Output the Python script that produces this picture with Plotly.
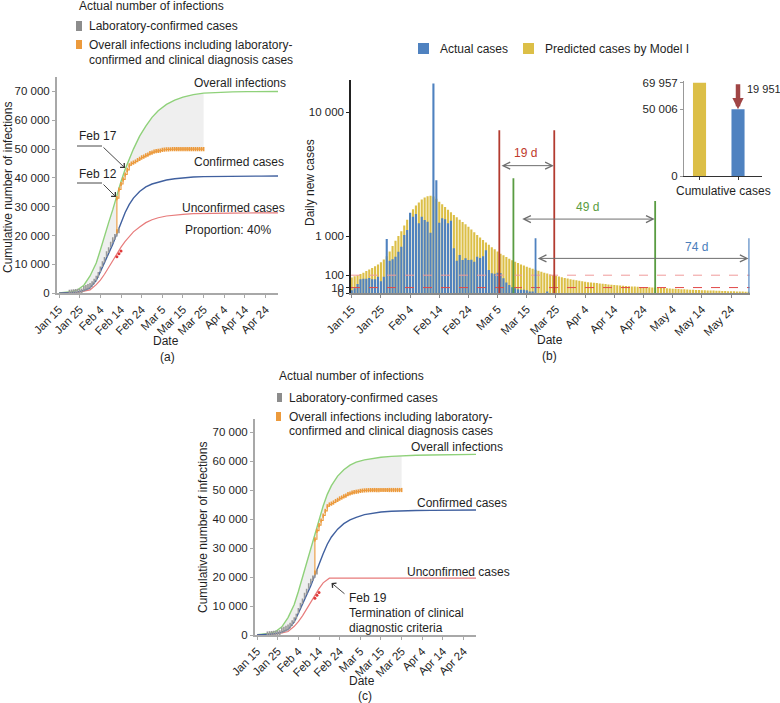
import numpy as np
import pandas as pd
import plotly.graph_objects as go

# ------------------------------------------------------------------ data
# fitted curves for the cumulative panels (a) and (c)
fit_dates = ["2020-01-15", "2020-01-18", "2020-01-21", "2020-01-24", "2020-01-27", "2020-01-30",
             "2020-02-02", "2020-02-04", "2020-02-06", "2020-02-08", "2020-02-10", "2020-02-12",
             "2020-02-14", "2020-02-16", "2020-02-18", "2020-02-20", "2020-02-23", "2020-02-26",
             "2020-02-29", "2020-03-03", "2020-03-07", "2020-03-11", "2020-03-15", "2020-03-20",
             "2020-03-25", "2020-04-01", "2020-04-08", "2020-04-15", "2020-04-22", "2020-04-30"]
overall_a = [100, 250, 550, 1200, 2800, 6000, 10500, 15000, 20000, 24500, 29000, 34000, 38800, 43000,
             46800, 50000, 54500, 58000, 61000, 63300, 65500, 67000, 68000, 68900, 69400, 69700,
             69850, 69920, 69950, 69957]
confirmed_a = [50, 100, 250, 500, 1000, 1900, 4500, 7500, 10500, 13500, 17000, 20700, 24500, 28000,
               30800, 33000, 35300, 36900, 37900, 38600, 39300, 39700, 40000, 40300, 40450, 40550,
               40600, 40620, 40640, 40650]
unconfirmed_a = [20, 60, 150, 350, 750, 1200, 3000, 4600, 6600, 9000, 11500, 13800, 16000, 18000,
                 19800, 21300, 23000, 24500, 25500, 26200, 26800, 27200, 27400, 27600, 27700, 27780,
                 27820, 27850, 27870, 27880]

overall_c = [100, 250, 550, 1200, 2800, 6000, 10500, 15000, 20000, 24500, 29500, 35000, 40000, 44500,
             48500, 51500, 54800, 57000, 58600, 59600, 60400, 60900, 61300, 61600, 61800, 62000,
             62100, 62200, 62250, 62300]
confirmed_c = [50, 100, 250, 500, 1000, 1900, 4500, 7500, 10500, 13500, 17000, 20700, 24500, 28000,
               31300, 33800, 36500, 38400, 39700, 40600, 41500, 42000, 42400, 42700, 42850, 42950,
               43000, 43050, 43080, 43100]
unconfirmed_c_dates = ["2020-01-15", "2020-01-18", "2020-01-21", "2020-01-24", "2020-01-27", "2020-01-30",
                       "2020-02-02", "2020-02-04", "2020-02-06", "2020-02-08", "2020-02-10", "2020-02-12",
                       "2020-02-14", "2020-02-16", "2020-02-19", "2020-04-30"]
unconfirmed_c = [20, 60, 150, 350, 750, 1200, 3000, 4600, 6600, 9000, 11500, 13800, 16000, 18000,
                 19600, 19600]

# actual data points
lab_start = "2020-01-20"
lab_confirmed = [260, 360, 430, 500, 570, 620, 700, 1590, 1900, 2260, 2640, 3220, 4110, 5140, 6380,
                 8350, 10120, 11620, 13600, 14980, 16900, 18450, 19560, 20700, 21800]
overall_obs_start = "2020-02-12"
overall_obs_base = 21500
overall_obs = [33000, 36000, 37900, 39500, 41200, 42800, 44400, 45000, 45300, 45700, 46200, 46600,
               47100, 47400, 47800, 48100, 48600, 48800, 49100, 49300, 49400, 49500, 49700, 49800,
               49870, 49910, 49950, 49970, 49980, 49990, 49995, 50000, 50003, 50004, 50005, 50005,
               50005, 50005, 50006, 50006, 50006, 50006, 50006]
clinical_dates = ["2020-02-12", "2020-02-13", "2020-02-14"]
clinical_vals = [12700, 13700, 14700]

# daily panel (b)
daily_start = "2020-01-15"
predicted = [75, 88, 100, 115, 130, 150, 172, 195, 222, 255,
             295, 350, 420, 530, 680, 840, 1000, 1170, 1400, 1650,
             1950, 2150, 2350, 2520, 2680, 2800, 2880, 2900, 2860, 2730,
             2560, 2420, 2270, 2130, 2000, 1870, 1760, 1650, 1550, 1450,
             1350, 1240, 1140, 1040, 950, 866, 790, 720, 650, 590,
             530, 480, 440, 400, 365, 335, 305, 280, 255, 235,
             216, 198, 182, 168, 154, 142, 130, 119, 109, 100,
             92, 85, 78, 72, 66, 60, 56, 52, 48, 44,
             41, 38, 36, 34, 32, 30, 28, 26, 24, 22.5,
             21, 19.5, 18, 17, 16, 15.2, 14.4, 13.7, 13.1, 12.5,
             12.0, 11.5, 11.0, 10.5, 10.0, 9.4, 8.8, 8.2, 7.6, 7.0,
             6.5, 6.0, 5.6, 5.2, 4.8, 4.4, 4.1, 3.8, 3.5, 3.2,
             3.0, 2.8, 2.6, 2.4, 2.2, 2.0, 1.8, 1.7, 1.6, 1.4,
             1.3, 1.2, 1.1, 1.0, 0.9, 0.8, 0.7]
actual = [3, 8, 26, 60, 65, 65, 72, 60, 60, 84, 45, 84,
          900,
          324, 353, 409, 528, 663, 1037, 1223,
          1983, 1790, 1919, 1495, 1790, 1640, 1565, 1121,
          13436, 3900,
          1520, 1720, 1670, 1500, 1600,
          618, 324, 448, 338, 373, 338, 345, 305, 409, 380, 420, 565,
          166, 122, 118, 130, 126, 69,
          36, 21, 11, 8, 5, 4, 4, 3, 1, 1,
          0, 0, 0, 0, 1]
daily_ticks = [0, 10, 100, 1000, 10000]
daily_tick_text = ["0", "10", "100", "1 000", "10 000"]
threshold_100 = 100
threshold_10 = 10

# inset cumulative comparison
cum_labels = ["Predicted cases by Model I", "Actual cases"]
cum_values = [69957, 50006]

# tick labels
cum_tick_dates = ["2020-01-15", "2020-01-25", "2020-02-04", "2020-02-14", "2020-02-24", "2020-03-05",
                  "2020-03-15", "2020-03-25", "2020-04-04", "2020-04-14", "2020-04-24"]
cum_tick_text = ["Jan 15", "Jan 25", "Feb 4", "Feb 14", "Feb 24", "Mar 5", "Mar 15", "Mar 25",
                 "Apr 4", "Apr 14", "Apr 24"]
daily_tick_dates = cum_tick_dates + ["2020-05-04", "2020-05-14", "2020-05-24"]
daily_tick_labels = cum_tick_text + ["May 4", "May 14", "May 24"]
cum_yticks = [0, 10000, 20000, 30000, 40000, 50000, 60000, 70000]
cum_ytext = ["0", "10 000", "20 000", "30 000", "40 000", "50 000", "60 000", "70 000"]

# ------------------------------------------------------------------ style
W, H = 780, 703
FONT = "Liberation Sans, Arial, sans-serif"
TXT = "#1f1f1f"
GREEN = "#8fd17a"
BLUE_LINE = "#40609f"
RED_LINE = "#e77b7b"
ORANGE = "#ec9a3c"
GREY_MARK = "#9a9a9a"
SHADE = "#efefef"
BAR_BLUE = "#4f82c0"
BAR_YELLOW = "#dcbf47"
DARK_RED = "#b33b30"
MID_GREEN = "#5a9c42"
AXIS_GREY = "#a8a8a8"


def px(x):
    return x / W


def py(y):
    return 1 - y / H


fig = go.Figure()


def step_points(xs, ys):
    pts = [(xs[0], ys[0])]
    for i in range(1, len(xs)):
        pts.append((xs[i], ys[i - 1]))
        pts.append((xs[i], ys[i]))
    return pts


def cum_panel(xa, ya, overall, confirmed, unc_dates, unc):
    lab_x = pd.date_range(lab_start, periods=len(lab_confirmed)).strftime("%Y-%m-%d").tolist()
    obs_x = [overall_obs_start] + pd.date_range(overall_obs_start, periods=len(overall_obs)).strftime("%Y-%m-%d").tolist()
    obs_y = [overall_obs_base] + overall_obs

    # grey shaded gap between overall infections and observed cases
    upper = [(d, v) for d, v in zip(fit_dates, overall) if "2020-01-27" <= d <= "2020-03-25"]
    lower_obs = step_points(obs_x, obs_y)[::-1]
    lower_fit = [(d, v) for d, v in zip(fit_dates, confirmed) if "2020-01-27" <= d <= "2020-02-10"][::-1]
    poly = upper + lower_obs + lower_fit
    fig.add_trace(go.Scatter(x=[p[0] for p in poly], y=[p[1] for p in poly], fill="toself",
                             fillcolor=SHADE, line=dict(width=0), mode="lines", hoverinfo="skip",
                             xaxis=xa, yaxis=ya))
    fig.add_trace(go.Scatter(x=fit_dates, y=overall, mode="lines", line=dict(color=GREEN, width=1.4),
                             name="Overall infections", xaxis=xa, yaxis=ya))
    fig.add_trace(go.Scatter(x=unc_dates, y=unc, mode="lines", line=dict(color=RED_LINE, width=1.2),
                             name="Unconfirmed cases", xaxis=xa, yaxis=ya))
    fig.add_trace(go.Scatter(x=fit_dates, y=confirmed, mode="lines", line=dict(color=BLUE_LINE, width=1.4),
                             name="Confirmed cases", xaxis=xa, yaxis=ya))
    fig.add_trace(go.Scatter(x=lab_x, y=lab_confirmed, mode="markers",
                             marker=dict(symbol="line-ns-open", size=4, color=GREY_MARK,
                                         line=dict(width=1.6, color=GREY_MARK)),
                             name="Laboratory-confirmed cases", xaxis=xa, yaxis=ya))
    fig.add_trace(go.Scatter(x=obs_x, y=obs_y, mode="lines+markers", line=dict(color=ORANGE, width=1.1, shape="hv"),
                             marker=dict(symbol="line-ns-open", size=3, color=ORANGE,
                                         line=dict(width=1.6, color=ORANGE)),
                             name="Overall infections (observed)", xaxis=xa, yaxis=ya))
    fig.add_trace(go.Scatter(x=clinical_dates, y=clinical_vals, mode="markers",
                             marker=dict(symbol="circle", size=3, color="#e03a3a", line=dict(width=0)),
                             name="Clinical diagnosis", xaxis=xa, yaxis=ya))


cum_panel("x", "y", overall_a, confirmed_a, fit_dates, unconfirmed_a)
cum_panel("x3", "y3", overall_c, confirmed_c, unconfirmed_c_dates, unconfirmed_c)

# panel (b) bars (square-root scaled axis)
daily_x = pd.date_range(daily_start, periods=len(predicted))
bar_w = 0.72 * 86400000
fig.add_trace(go.Bar(x=daily_x, y=np.sqrt(predicted), width=bar_w, marker=dict(color=BAR_YELLOW, line=dict(width=0)),
                     customdata=predicted, hovertemplate="%{x|%b %d}: %{customdata}<extra>Predicted</extra>",
                     name="Predicted cases by Model I", xaxis="x2", yaxis="y2"))
fig.add_trace(go.Bar(x=daily_x[:len(actual)], y=np.sqrt(actual), width=bar_w, marker=dict(color=BAR_BLUE, line=dict(width=0)),
                     customdata=actual, hovertemplate="%{x|%b %d}: %{customdata}<extra>Actual</extra>",
                     name="Actual cases", xaxis="x2", yaxis="y2"))
# inset
fig.add_trace(go.Bar(x=[0, 1], y=cum_values, width=0.34, marker=dict(color=[BAR_YELLOW, BAR_BLUE], line=dict(width=0)),
                     customdata=cum_labels, hovertemplate="%{customdata}: %{y}<extra></extra>",
                     xaxis="x4", yaxis="y4"))

# ------------------------------------------------------------------ axes
tickfont = dict(family=FONT, size=11.5, color=TXT)
cum_range = ["2020-01-14", "2020-04-30"]
common_x = dict(type="date", showgrid=False, zeroline=False, showline=True, linecolor=AXIS_GREY, linewidth=2,
                ticks="outside", ticklen=3, tickcolor=AXIS_GREY, tickangle=-45, tickfont=tickfont,
                automargin=False)
common_y = dict(showgrid=False, zeroline=False, showline=True, linecolor=AXIS_GREY, linewidth=2,
                ticks="outside", ticklen=3, tickcolor=AXIS_GREY, tickfont=tickfont, automargin=False)

fig.update_layout(
    xaxis=dict(common_x, domain=[px(57), px(278)], range=cum_range, anchor="y",
               tickvals=cum_tick_dates, ticktext=cum_tick_text),
    yaxis=dict(common_y, domain=[py(293.3), py(77)], range=[0, 75000], anchor="x",
               tickvals=cum_yticks, ticktext=cum_ytext),
    xaxis3=dict(common_x, domain=[px(255), px(476)], range=cum_range, anchor="y3",
                tickvals=cum_tick_dates, ticktext=cum_tick_text),
    yaxis3=dict(common_y, domain=[py(635), py(419)], range=[0, 74500], anchor="x3",
                tickvals=cum_yticks, ticktext=cum_ytext),
    xaxis2=dict(common_x, domain=[px(351), px(749.5)], range=["2020-01-14 18:00", "2020-05-30 08:00"],
                anchor="y2", tickvals=daily_tick_dates, ticktext=daily_tick_labels, linecolor="#8a8a8a",
                linewidth=1.5, tickcolor="#8a8a8a"),
    yaxis2=dict(common_y, domain=[py(293.3), py(80)], range=[0, 117.8], anchor="x2",
                tickvals=np.sqrt(daily_ticks), ticktext=daily_tick_text, linecolor="#222222",
                linewidth=1.5, tickcolor="#222222"),
    xaxis4=dict(domain=[px(684), px(762)], range=[-0.403, 1.623], anchor="y4", showgrid=False, zeroline=False,
                showline=True, linecolor="#333333", linewidth=1.2, ticks="outside", ticklen=3,
                tickcolor="#333333", tickvals=[0, 1], ticktext=["", ""], automargin=False),
    yaxis4=dict(domain=[py(176), py(80.7)], range=[0, 71400], anchor="x4", showgrid=False, zeroline=False,
                showline=True, linecolor="#999999", linewidth=1, ticks="outside", ticklen=3,
                tickcolor="#999999", tickvals=[0, cum_values[1], cum_values[0]],
                ticktext=["0", f"{cum_values[1]:,}".replace(",", " "), f"{cum_values[0]:,}".replace(",", " ")],
                tickfont=tickfont, automargin=False),
)

# ------------------------------------------------------------------ shapes
shapes = []
# thresholds in (b)
for val, col in [(threshold_100, "#f09a9a"), (threshold_10, "#e04848")]:
    shapes.append(dict(type="line", xref="x2 domain", yref="y2", x0=0, x1=1, y0=np.sqrt(val), y1=np.sqrt(val),
                       line=dict(color=col, width=1, dash="dash")))
# marker lines in (b): (date, top value, colour)
marker_lines = [("2020-03-05 14:00", 8100, DARK_RED), ("2020-03-24 10:00", 8100, DARK_RED),
                ("2020-03-10 10:00", 4030, MID_GREEN), ("2020-04-28 00:00", 2600, MID_GREEN),
                ("2020-03-18 00:00", 925, BAR_BLUE), ("2020-05-30 06:00", 925, BAR_BLUE)]
for d, top, col in marker_lines:
    shapes.append(dict(type="line", xref="x2", yref="y2", x0=d, x1=d, y0=0, y1=np.sqrt(top),
                       line=dict(color=col, width=1.8)))
# legend swatches
for (x0, y0, x1, y1, col) in [(76, 21, 82, 31, "#8c8c8c"), (76, 40, 82, 49, ORANGE),
                              (277, 393, 282, 402, "#8c8c8c"), (276, 412, 281, 421, ORANGE),
                              (418, 43, 429, 54, BAR_BLUE), (523, 43, 534, 54, BAR_YELLOW)]:
    shapes.append(dict(type="rect", xref="paper", yref="paper", x0=px(x0), x1=px(x1), y0=py(y1), y1=py(y0),
                       fillcolor=col, line=dict(width=0)))
# leader lines for date call-outs in (a)
for yy in (146, 183):
    shapes.append(dict(type="line", xref="paper", yref="paper", x0=px(77), x1=px(102), y0=py(yy), y1=py(yy),
                       line=dict(color="#333333", width=0.9)))
fig.update_layout(shapes=shapes)

# ------------------------------------------------------------------ annotations
ann = []


def text(x, y, s, size=12, color=TXT, xanchor="left", angle=0):
    ann.append(dict(x=px(x), y=py(y), xref="paper", yref="paper", text=s, showarrow=False, xanchor=xanchor,
                    yanchor="middle", textangle=angle, font=dict(family=FONT, size=size, color=color)))


def arrow(x0, y0, x1, y1, head=4, size=1.3, width=0.9, color="#333333"):
    ann.append(dict(x=px(x1), y=py(y1), xref="paper", yref="paper", ax=x0 - x1, ay=y0 - y1,
                    axref="pixel", ayref="pixel", text="", showarrow=True, arrowhead=head, arrowsize=size,
                    arrowwidth=width, arrowcolor=color))


# panel (a)
text(77, 6, "Actual number of infections")
text(87, 26, "Laboratory-confirmed cases")
text(87, 45, "Overall infections including laboratory-")
text(87, 60, "confirmed and clinical diagnosis cases")
text(192, 83, "Overall infections")
text(192, 162, "Confirmed cases")
text(180, 208, "Unconfirmed cases")
text(183, 230, "Proportion: 40%")
text(77, 136, "Feb 17")
text(77, 174, "Feb 12")
arrow(102, 146, 125, 168)
arrow(102, 183, 116, 197)
text(8, 188, "Cumulative number of infections", xanchor="center", angle=-90)
text(166, 341, "Date", xanchor="center")
text(167, 357, "(a)", xanchor="center")

# panel (c)
text(277, 376, "Actual number of infections")
text(287, 398, "Laboratory-confirmed cases")
text(287, 417, "Overall infections including laboratory-")
text(287, 431, "confirmed and clinical diagnosis cases")
text(409, 447, "Overall infections")
text(415, 503, "Confirmed cases")
text(405, 572, "Unconfirmed cases")
text(347, 598, "Feb 19")
text(347, 613, "Termination of clinical")
text(347, 628, "diagnostic criteria")
arrow(346, 595, 331.5, 583)
text(203, 528, "Cumulative number of infections", xanchor="center", angle=-90)
text(362, 681, "Date", xanchor="center")
text(365, 696, "(c)", xanchor="center")

# panel (b)
text(438, 48.5, "Actual cases")
text(543, 48.5, "Predicted cases by Model I")
text(310, 183, "Daily new cases", xanchor="center", angle=-90)
text(550, 340, "Date", xanchor="center")
text(549, 356, "(b)", xanchor="center")
text(723, 191, "Cumulative cases", xanchor="center")
text(745, 89, f"{cum_values[0] - cum_values[1]:,}".replace(",", " "), size=11)
# inset difference arrow
ann.append(dict(x=1, y=cum_values[1], xref="x4", yref="y4", ax=1, ay=cum_values[0], axref="x4", ayref="y4",
                text="", showarrow=True, arrowhead=2, arrowsize=0.5, arrowwidth=4.5, arrowcolor="#a04545"))
# interval arrows: (start, end, level, label, label date, label level, colour)
intervals = [("2020-03-05 20:00", "2020-03-24 06:00", 4970, "19 d", "2020-03-14 12:00", 5975, "#c0392b"),
             ("2020-03-12 22:00", "2020-04-27 20:00", 1680, "49 d", "2020-04-04 22:00", 2256, MID_GREEN),
             ("2020-03-18 06:00", "2020-05-30 00:00", 372, "74 d", "2020-05-12 05:00", 660, "#4a7ebb")]
for s, e, lvl, lab, ld, ll, col in intervals:
    ann.append(dict(x=e, y=np.sqrt(lvl), xref="x2", yref="y2", ax=s, ay=np.sqrt(lvl), axref="x2", ayref="y2",
                    text="", showarrow=True, arrowside="end+start", arrowhead=5, startarrowhead=5,
                    arrowsize=1.4, startarrowsize=1.4, arrowwidth=1, arrowcolor="#6e6e6e"))
    ann.append(dict(x=ld, y=np.sqrt(ll), xref="x2", yref="y2", text=lab, showarrow=False,
                    font=dict(family=FONT, size=12, color=col)))

fig.update_layout(annotations=ann)

fig.update_layout(width=W, height=H, margin=dict(l=0, r=0, t=0, b=0, autoexpand=False), paper_bgcolor="white",
                  plot_bgcolor="white", showlegend=False, barmode="overlay",
                  font=dict(family=FONT, size=12, color=TXT))

fig.write_html("out.html", config={"displayModeBar": False},
               post_script="document.body.style.margin='0';")
